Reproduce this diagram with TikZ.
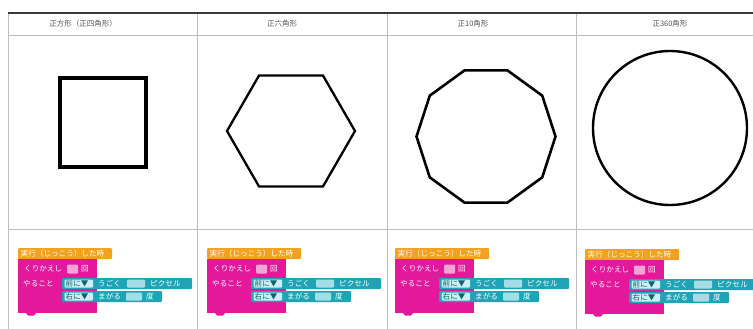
\documentclass[tikz,border=0pt]{standalone}
\usepackage{fontspec}
\setmainfont{Noto Sans CJK JP}
\definecolor{gridc}{HTML}{BDBDBD}
\definecolor{topc}{HTML}{3A3A3A}
\definecolor{headc}{HTML}{555555}
\definecolor{hatc}{HTML}{F2A21E}
\definecolor{loopc}{HTML}{E3189A}
\definecolor{movec}{HTML}{1EA4B6}
\definecolor{movefield}{HTML}{A6DCE6}
\definecolor{loopfield}{HTML}{F5A3D6}
\definecolor{dropc}{HTML}{CBEFF4}
\newcommand\blkfont{\fontsize{7.6}{8}\selectfont}
\tikzset{
  gridline/.style={draw=gridc, line width=0.9pt},
  topline/.style={draw=topc, line width=1.3pt},
  headtext/.style={text=headc, font=\fontsize{7.5}{8}\selectfont, inner sep=0pt},
  shapeline/.style={draw=black, line join=miter},
  btext/.style={text=white, font=\blkfont, inner sep=0pt, anchor=west},
  dtext/.style={text=movec!60!black, font=\blkfont, inner sep=0pt, anchor=west},
  scratch/.pic={
    \fill[hatc, rounded corners=1pt] (0,0) rectangle (94,11);
    \node[btext] (hat) at (2.5,5.6) {実行（じっこう）した時};
    \fill[loopc] (0,11) rectangle (79,65);
    \fill[loopc] (8,65) -- (10,67.5) -- (16,67.5) -- (18,65) -- cycle;
    \node[btext] (rep) at (6,21) {くりかえし};
    \fill[loopfield, rounded corners=1pt] (49,16.5) rectangle (60,25.5);
    \node[btext] (kai) at (63,21) {回};
    \node[btext] (do) at (5,35.5) {やること};
    % move block
    \fill[movec, rounded corners=1pt] (44,30) rectangle (174,41);
    \fill[dropc, rounded corners=1pt] (46.5,31.5) rectangle (75,39.5);
    \node[dtext] (fwd) at (47.5,35.5) {前に▼};
    \node[btext] (move) at (80,35.5) {うごく};
    \fill[movefield, rounded corners=1pt] (109,31.5) rectangle (127,39.5);
    \node[btext] (px) at (132,35.5) {ピクセル};
    % turn block
    \fill[movec, rounded corners=1pt] (44,43) rectangle (144,54);
    \fill[dropc, rounded corners=1pt] (46.5,44.5) rectangle (75,52.5);
    \node[dtext] (right) at (47.5,48.5) {右に▼};
    \node[btext] (turn) at (80,48.5) {まがる};
    \fill[movefield, rounded corners=1pt] (108,44.5) rectangle (124,52.5);
    \node[btext] (deg) at (128,48.5) {度};
  }
}
\begin{document}
\begin{tikzpicture}[x=1pt, y=-1pt]
\useasboundingbox (0,0) rectangle (753,329);
\clip (0,0) rectangle (753,329);
\fill[white] (0,0) rectangle (753,329);
% grid
\draw[gridline] (8,35) -- (753,35);
\draw[gridline] (8,229) -- (753,229);
\draw[gridline] (8,13) -- (8,329);
\draw[gridline] (197.5,13) -- (197.5,329);
\draw[gridline] (387,13) -- (387,329);
\draw[gridline] (576.5,13) -- (576.5,329);
\draw[topline] (7.5,13) -- (753,13);
% headers
\node[headtext] (h1) at (83,24) {正方形（正四角形）};
\node[headtext] (h2) at (282,24) {正六角形};
\node[headtext] (h3) at (473,24) {正10角形};
\node[headtext] (h4) at (670,24) {正360角形};
% shapes
\draw[shapeline, line width=3.2pt] (60,78) rectangle (146,167);
\draw[shapeline, line width=2.3pt] plot[samples at={0,60,...,300}] ({291+64*cos(\x)},{131+64*sin(\x)}) -- cycle;
\draw[shapeline, line width=2.6pt] plot[samples at={0,36,...,324}] ({486+69.5*cos(\x)},{136.5+69.5*sin(\x)}) -- cycle;
\draw[shapeline, line width=2.4pt] (670,128) circle[radius=77];
% blocks
\pic (b1) at (18,248) {scratch};
\pic (b2) at (207,248) {scratch};
\pic (b3) at (395,248) {scratch};
\pic (b4) at (585,249) {scratch};
\end{tikzpicture}
\end{document}
